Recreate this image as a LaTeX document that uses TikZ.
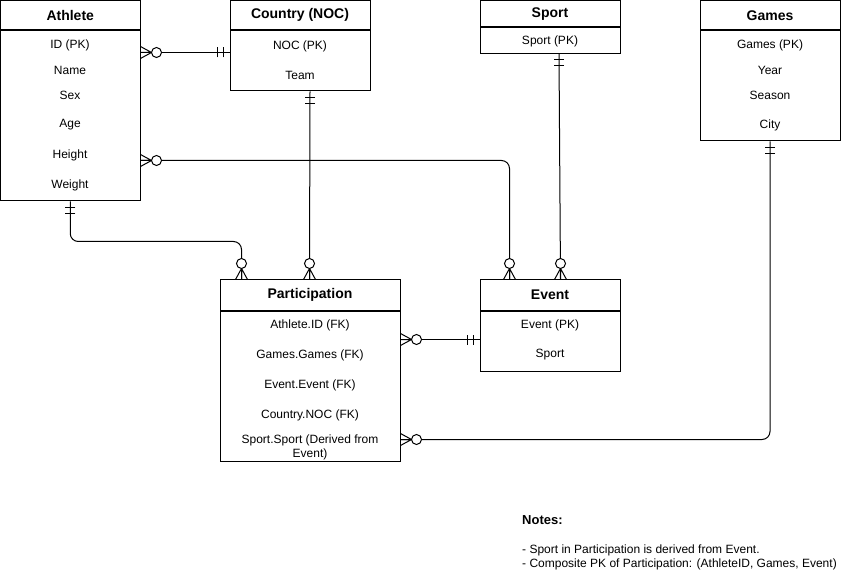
\documentclass[tikz,border=0pt]{standalone}
\usepackage{fontspec}
\setmainfont{Liberation Sans}
\usetikzlibrary{positioning,calc}
\tikzset{
 ent/.style={draw, line width=1pt, inner sep=0pt, fill=white},
 hdr/.style={ent, font=\fontsize{14}{16}\selectfont\bfseries},
 row/.style={font=\fontsize{12}{14}\selectfont, inner sep=0pt, align=center},
 conn/.style={line width=1pt, rounded corners=8pt},
 zmany/.pic={\draw[line width=1pt] (0,-6)--(11,0)--(0,6) (0,0)--(11,0);
             \draw[line width=1pt, fill=white] (16,0) circle[radius=5pt];},
 mone/.pic={\draw[line width=1pt] (6,-5)--(6,5) (12,-5)--(12,5);}
}
\begin{document}
\begin{tikzpicture}[x=1pt,y=-1pt]
\useasboundingbox (0,0) rectangle (841,588);
% Athlete
\node[hdr, minimum width=139.5pt, minimum height=29.5pt] (athlete) at (70.25,15.25) {Athlete};
\node[ent, minimum width=139.5pt, minimum height=170pt, below=0pt of athlete] (athleteB) {};
\node[row] (a1) at (70,45) {ID (PK)};
\node[row] (a2) at (70,70) {Name};
\node[row] (a3) at (70,95) {Sex};
\node[row] (a4) at (70,125) {Age};
\node[row] (a5) at (70,155) {Height};
\node[row] (a6) at (70,185) {Weight};
% Country
\node[hdr, minimum width=140pt, minimum height=29.5pt] (country) at (300,15.25) {Country (NOC)};
\node[ent, minimum width=140pt, minimum height=60pt, below=0pt of country] (countryB) {};
\node[row] (c1) at (300,46) {NOC (PK)};
\node[row] (c2) at (300,75) {Team};
% Sport
\node[hdr, minimum width=140pt, minimum height=25.5pt] (sport) at (550,13.75) {Sport};
\node[ent, minimum width=140pt, minimum height=26pt, below=0pt of sport] (sportB) {};
\node[row] (s1) at (550,41) {Sport (PK)};
% Games
\node[hdr, minimum width=140pt, minimum height=29.5pt] (games) at (770,15.25) {Games};
\node[ent, minimum width=140pt, minimum height=110pt, below=0pt of games] (gamesB) {};
\node[row] (g1) at (770,45) {Games (PK)};
\node[row] (g2) at (770,70) {Year};
\node[row] (g3) at (770,95) {Season};
\node[row] (g4) at (770,125) {City};
% Participation
\node[hdr, minimum width=180pt, minimum height=30pt] (part) at (310,295) {Participation};
\node[ent, minimum width=180pt, minimum height=150pt, below=0pt of part] (partB) {};
\node[row] (p1) at (310,325) {Athlete.ID (FK)};
\node[row] (p2) at (310,355) {Games.Games (FK)};
\node[row] (p3) at (310,385) {Event.Event (FK)};
\node[row] (p4) at (310,415) {Country.NOC (FK)};
\node[row] (p5) at (310,447) {Sport.Sport (Derived from\\Event)};
% Event
\node[hdr, minimum width=140pt, minimum height=30pt] (event) at (550,295) {Event};
\node[ent, minimum width=140pt, minimum height=60pt, below=0pt of event] (eventB) {};
\node[row] (e1) at (550,325) {Event (PK)};
\node[row] (e2) at (550,355) {Sport};
% Notes
\node[anchor=north west, inner sep=0pt, font=\fontsize{13}{15}\selectfont\bfseries] (notes) at (522,515) {Notes:};
\node[anchor=north west, row, align=left] (notes2) at (522,545) {- Sport in Participation is derived from Event.\\- Composite PK of Participation: (AthleteID, Games, Event)};
% connector points
\coordinate (k1a) at ($(athleteB.north east)+(0,22)$);
\coordinate (k1b) at (k1a -| countryB.west);
\coordinate (k2a) at ($(athleteB.north east)+(0,130)$);
\coordinate (k2b) at ($(event.north west)+(30,0)$);
\coordinate (k3a) at (athleteB.south);
\coordinate (k3b) at ($(part.north west)+(22,0)$);
\coordinate (k4a) at ($(countryB.south)+(10,0)$);
\coordinate (k4b) at ($(part.north west)+(90,0)$);
\coordinate (k5a) at ($(sportB.south)+(9,0)$);
\coordinate (k5b) at ($(event.north west)+(81,0)$);
\coordinate (k6a) at ($(partB.north east)+(0,29)$);
\coordinate (k6b) at (k6a -| eventB.west);
\coordinate (k7a) at ($(partB.north east)+(0,129)$);
\coordinate (k7b) at (gamesB.south);
% connectors
\draw[conn] (k1a) -- (k1b);
\draw[conn] (k2a) -| (k2b);
\draw[conn] (k3a) -- ++(0,40) -| (k3b);
\draw[conn] (k4a) -- (k4b);
\draw[conn] (k5a) -- (k5b);
\draw[conn] (k6a) -- (k6b);
\draw[conn] (k7a) -| (k7b);
% end marks
\pic at (k1a) {zmany};
\pic[rotate=180] at (k1b) {mone};
\pic at (k2a) {zmany};
\pic[rotate=90] at (k2b) {zmany};
\pic[rotate=-90] at (k3a) {mone};
\pic[rotate=90] at (k3b) {zmany};
\pic[rotate=-90] at (k4a) {mone};
\pic[rotate=90] at (k4b) {zmany};
\pic[rotate=-90] at (k5a) {mone};
\pic[rotate=90] at (k5b) {zmany};
\pic at (k6a) {zmany};
\pic[rotate=180] at (k6b) {mone};
\pic at (k7a) {zmany};
\pic[rotate=-90] at (k7b) {mone};
\end{tikzpicture}
\end{document}
